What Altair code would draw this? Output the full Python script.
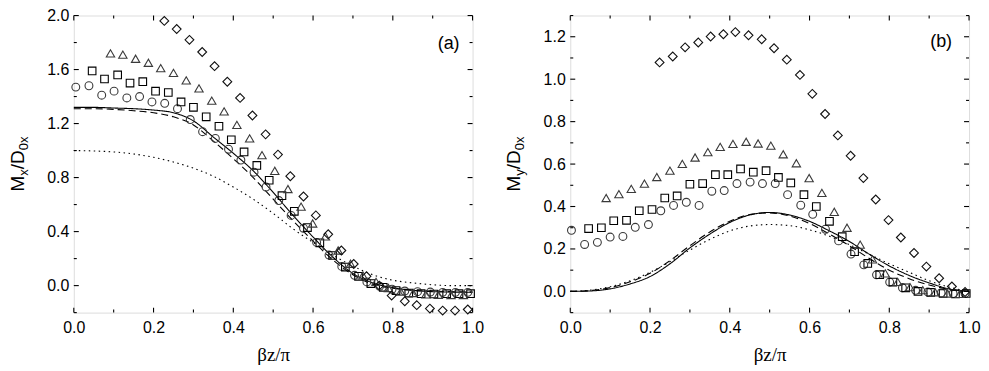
import altair as alt
import pandas as pd

# ---------------- data: panel (a) ----------------
ca_x = [0.005,0.038,0.070,0.101,0.133,0.165,0.196,0.228,0.260,0.292,0.323,0.355,0.388,0.419,0.452,0.482,0.514,0.545,0.576,0.609,0.640,0.672,0.704,0.735,0.767,0.798,0.830,0.862,0.894,0.925,0.957,0.988]
ca_y = [1.47,1.48,1.41,1.44,1.39,1.40,1.36,1.35,1.31,1.23,1.14,1.09,1.01,0.93,0.84,0.73,0.63,0.52,0.425,0.32,0.226,0.142,0.076,0.027,-0.005,-0.027,-0.04,-0.045,-0.048,-0.05,-0.05,-0.05]
sa_x = [0.046,0.077,0.110,0.141,0.173,0.205,0.237,0.269,0.300,0.332,0.364,0.395,0.427,0.459,0.490,0.522,0.553,0.586,0.617,0.649,0.681,0.714,0.745,0.776,0.808,0.840,0.871,0.903,0.935,0.966,0.995]
sa_y = [1.59,1.53,1.56,1.50,1.51,1.44,1.43,1.36,1.32,1.25,1.18,1.08,0.99,0.89,0.78,0.666,0.55,0.43,0.317,0.223,0.137,0.069,0.015,-0.013,-0.037,-0.055,-0.06,-0.062,-0.06,-0.06,-0.06]
ta_x = [0.092,0.123,0.155,0.187,0.218,0.250,0.282,0.314,0.346,0.377,0.409,0.441,0.472,0.504,0.537,0.570,0.599,0.631,0.663,0.694,0.725,0.758,0.789,0.820,0.851,0.883,0.914,0.946,0.977]
ta_y = [1.72,1.71,1.68,1.65,1.61,1.575,1.52,1.46,1.37,1.29,1.19,1.09,0.966,0.85,0.715,0.585,0.46,0.364,0.26,0.162,0.076,0.027,-0.018,-0.044,-0.055,-0.065,-0.068,-0.07,-0.07]
da_x = [0.227,0.258,0.290,0.322,0.353,0.385,0.417,0.448,0.481,0.512,0.543,0.576,0.607,0.638,0.671,0.702,0.734,0.766,0.797,0.830,0.860,0.893,0.925,0.956,0.988]
da_y = [1.96,1.90,1.82,1.73,1.625,1.51,1.39,1.26,1.12,0.97,0.81,0.66,0.52,0.38,0.26,0.16,0.069,0.0,-0.074,-0.116,-0.145,-0.17,-0.185,-0.185,-0.177]

lx = [0.0,0.05,0.1,0.15,0.2,0.25,0.3,0.35,0.4,0.45,0.5,0.55,0.6,0.65,0.7,0.75,0.8,0.85,0.9,0.95,1.0]
a_solid  = [1.32,1.32,1.315,1.31,1.30,1.28,1.22,1.10,0.98,0.85,0.69,0.52,0.36,0.21,0.09,0.02,-0.015,-0.035,-0.045,-0.048,-0.05]
a_dashed = [1.31,1.31,1.305,1.295,1.28,1.25,1.19,1.07,0.94,0.80,0.64,0.48,0.33,0.19,0.08,0.01,-0.02,-0.035,-0.04,-0.045,-0.045]
a_dotted = [1.00,0.997,0.99,0.975,0.95,0.915,0.87,0.81,0.73,0.64,0.535,0.42,0.32,0.225,0.145,0.08,0.04,0.02,0.006,0.0,0.0]

# ---------------- data: panel (b) ----------------
cb_x = [0.003,0.036,0.068,0.100,0.132,0.163,0.196,0.227,0.259,0.291,0.323,0.355,0.386,0.418,0.451,0.482,0.514,0.545,0.578,0.608,0.640,0.673,0.704,0.736,0.768,0.801,0.833,0.866,0.897,0.930,0.960,0.990]
cb_y = [0.288,0.221,0.231,0.256,0.259,0.302,0.315,0.38,0.405,0.42,0.405,0.472,0.475,0.508,0.515,0.508,0.508,0.456,0.406,0.363,0.293,0.238,0.176,0.125,0.078,0.044,0.017,0.005,-0.003,-0.007,-0.01,-0.01]
sb_x = [0.046,0.078,0.109,0.141,0.173,0.205,0.237,0.268,0.300,0.332,0.364,0.395,0.427,0.459,0.491,0.522,0.553,0.586,0.617,0.650,0.682,0.713,0.746,0.776,0.809,0.841,0.872,0.904,0.935,0.966,0.993]
sb_y = [0.296,0.30,0.333,0.335,0.38,0.386,0.44,0.45,0.505,0.508,0.55,0.55,0.577,0.562,0.569,0.537,0.511,0.456,0.40,0.33,0.258,0.187,0.132,0.079,0.044,0.017,0.0,-0.005,-0.01,-0.012,-0.01]
tb_x = [0.090,0.122,0.153,0.186,0.217,0.250,0.281,0.313,0.345,0.376,0.408,0.441,0.471,0.503,0.534,0.567,0.599,0.631,0.662,0.694,0.727,0.758,0.790,0.821,0.852,0.884,0.915,0.946,0.977]
tb_y = [0.44,0.458,0.483,0.508,0.539,0.569,0.601,0.631,0.656,0.681,0.695,0.705,0.697,0.687,0.646,0.604,0.534,0.464,0.375,0.30,0.22,0.151,0.085,0.045,0.02,0.006,-0.004,-0.01,-0.012]
db_x = [0.224,0.257,0.288,0.321,0.352,0.384,0.414,0.447,0.480,0.511,0.543,0.576,0.607,0.639,0.671,0.703,0.735,0.766,0.798,0.829,0.862,0.893,0.925,0.957,0.990]
db_y = [1.079,1.107,1.15,1.173,1.201,1.212,1.222,1.207,1.188,1.146,1.092,1.02,0.931,0.836,0.735,0.639,0.534,0.433,0.336,0.254,0.181,0.117,0.062,0.023,-0.003]

b_solid  = [0.0,0.002,0.012,0.035,0.07,0.13,0.205,0.27,0.325,0.36,0.372,0.36,0.33,0.285,0.235,0.175,0.12,0.075,0.04,0.012,0.0]
b_dashed = [0.0,0.004,0.018,0.045,0.085,0.145,0.215,0.28,0.33,0.362,0.37,0.355,0.32,0.27,0.215,0.155,0.10,0.06,0.03,0.01,0.0]
b_dotted = [0.0,0.006,0.022,0.05,0.09,0.14,0.195,0.245,0.285,0.308,0.315,0.31,0.29,0.26,0.22,0.175,0.13,0.09,0.05,0.02,0.0]

# ---------------- ticks / labels ----------------
x_major = [0.0,0.2,0.4,0.6,0.8,1.0]
x_minor = [0.1,0.3,0.5,0.7,0.9]
a_y_major = [0.0,0.4,0.8,1.2,1.6,2.0]
a_y_minor = [-0.2,0.2,0.6,1.0,1.4,1.8]
b_y_major = [0.0,0.2,0.4,0.6,0.8,1.0,1.2]
b_y_minor = [-0.1,0.1,0.3,0.5,0.7,0.9,1.1,1.3]

W, H = 400, 298
SANS = "Liberation Sans"
SERIF = "Liberation Serif"

shapes = ["circle", "square", "triangle-up", "diamond"]
stroke_cols = ["#3a3a3a", "#000000", "#3a3a3a", "#111111"]
sizes = [62, 58, 70, 78]


def panel(pts, lines, ydom, y_major, y_minor, tag, tagx, tagy, sub):
    xs = alt.Scale(domain=[0, 1], nice=False, zero=False)
    ys = alt.Scale(domain=ydom, nice=False, zero=False)
    xaxis = alt.Axis(values=x_major, format=".1f", ticks=False, tickSize=0, domain=False,
                     grid=False, labelFont=SANS, labelFontSize=16, labelColor="black",
                     labelPadding=7, labelFlush=False, title="βz/π", titleFont=SERIF,
                     titleFontSize=19, titleFontWeight="normal", titleColor="black",
                     titlePadding=10)
    yaxis = alt.Axis(values=y_major, format=".1f", ticks=False, tickSize=0, domain=False,
                     grid=False, labelFont=SANS, labelFontSize=16, labelColor="black",
                     labelPadding=5, labelFlush=False, title=None)
    X = lambda: alt.X("x:Q", scale=xs, axis=xaxis)
    Y = lambda: alt.Y("y:Q", scale=ys, axis=yaxis)

    layers = []
    for (ly, dash) in lines:
        df = pd.DataFrame({"x": lx, "y": ly})
        layers.append(alt.Chart(df).mark_line(color="black", strokeWidth=1.1, strokeDash=dash,
                                              interpolate="monotone")
                      .encode(x=X(), y=Y()))
    for i, (px, py) in enumerate(pts):
        df = pd.DataFrame({"x": px, "y": py})
        layers.append(alt.Chart(df).mark_point(shape=shapes[i], filled=False, size=sizes[i],
                                               stroke=stroke_cols[i], strokeWidth=1.1, opacity=1)
                      .encode(x=X(), y=Y()))
    for vals, ln in ((x_major, 5), (x_minor, 3)):
        df = pd.DataFrame({"x": vals})
        layers.append(alt.Chart(df).mark_rule(color="black", strokeWidth=1.1)
                      .encode(x=X(), y=alt.value(H), y2=alt.value(H - ln)))
        layers.append(alt.Chart(df).mark_rule(color="black", strokeWidth=1.1)
                      .encode(x=X(), y=alt.value(0), y2=alt.value(ln)))
    for vals, ln in ((y_major, 5), (y_minor, 3)):
        df = pd.DataFrame({"y": vals})
        layers.append(alt.Chart(df).mark_rule(color="black", strokeWidth=1.1)
                      .encode(y=Y(), x=alt.value(0), x2=alt.value(ln)))
        layers.append(alt.Chart(df).mark_rule(color="black", strokeWidth=1.1)
                      .encode(y=Y(), x=alt.value(W), x2=alt.value(W - ln)))
    one = pd.DataFrame({"k": [0]})
    layers.append(alt.Chart(one).mark_text(text=tag, font=SANS, fontSize=18, color="black",
                                           align="center", baseline="middle")
                  .encode(x=alt.value(tagx), y=alt.value(tagy)))
    # rotated y title with subscripts
    bx = -50
    pieces = [("M", 19, 0, 15.8), (sub, 13, 4, 6.5), ("/D", 19, 0, 19.0), ("0x", 13, 4, 13.7)]
    total = sum(p[3] for p in pieces)
    pos = H / 2 + total / 2
    for txt, fs, shift, adv in pieces:
        layers.append(alt.Chart(one).mark_text(text=txt, font=SANS, fontSize=fs, color="black",
                                               angle=270, align="left", baseline="alphabetic")
                      .encode(x=alt.value(bx + shift), y=alt.value(pos)))
        pos -= adv
    return alt.layer(*layers).properties(width=W, height=H)


pa = panel([(ca_x, ca_y), (sa_x, sa_y), (ta_x, ta_y), (da_x, da_y)],
           [(a_solid, [1, 0]), (a_dashed, [7, 4]), (a_dotted, [1.5, 3.5])],
           [-0.2, 2.0], a_y_major, a_y_minor, "(a)", 376, 29, "x")
pb = panel([(cb_x, cb_y), (sb_x, sb_y), (tb_x, tb_y), (db_x, db_y)],
           [(b_solid, [1, 0]), (b_dashed, [7, 4]), (b_dotted, [1.5, 3.5])],
           [-0.1, 1.3], b_y_major, b_y_minor, "(b)", 372, 27, "y")

chart = (alt.hconcat(pa, pb, spacing=20)
         .properties(padding={"left": 0, "top": -2, "right": 0, "bottom": 0})
         .configure_view(stroke="black", strokeWidth=1.3)
         .configure(background="white"))

chart.save("out.html", embed_options={"renderer": "svg", "actions": False})
